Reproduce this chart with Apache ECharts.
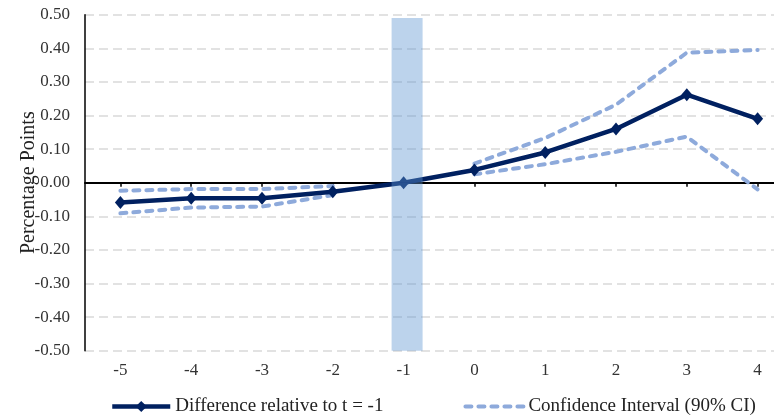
<!DOCTYPE html>
<html>
<head>
<meta charset="utf-8">
<script src="https://cdn.jsdelivr.net/npm/echarts@6/dist/echarts.min.js"></script>
<style>
  html, body { margin: 0; padding: 0; background: #fff; }
  #chart { width: 774px; height: 416px; }
</style>
</head>
<body>
<div id="chart"></div>
<script>
// Event-time periods relative to the reference period t = -1
const periods = ['-5', '-4', '-3', '-2', '-1', '0', '1', '2', '3', '4'];

// Estimated difference relative to t = -1 (percentage points)
const difference = [-0.059, -0.046, -0.046, -0.027, 0.000, 0.038, 0.090, 0.160, 0.262, 0.190];

// 90% confidence interval bounds (no interval at the reference period)
const ciUpper = [-0.024, -0.019, -0.019, -0.010, null, 0.057, 0.133, 0.232, 0.387, 0.395];
const ciLower = [-0.091, -0.074, -0.071, -0.037, null, 0.025, 0.055, 0.092, 0.137, -0.020];

// Shaded band marking the reference period
const bandTop    = [null, null, null, null, 0.49, null, null, null, null, null];
const bandBottom = [null, null, null, null, -0.50, null, null, null, null, null];

// Y axis range and step
const yMin = -0.5, yMax = 0.5, yStep = 0.1;

const FONT = '"Liberation Serif", "DejaVu Serif", serif';
const NAVY = '#002060';
const CI_BLUE = '#8eaadb';

const ciLine = { color: CI_BLUE, width: 4, type: [6, 7], cap: 'round' };

const chart = echarts.init(document.getElementById('chart'));

chart.setOption({
  animation: false,
  backgroundColor: '#ffffff',
  textStyle: { fontFamily: FONT },
  grid: [
    { left: 85, width: 708, top: 14.7, height: 336, containLabel: false, outerBoundsMode: 'none' },
    { left: 88.5, width: 708, top: 14.7, height: 336, containLabel: false, outerBoundsMode: 'none' }
  ],
  legend: {
    data: [
      { name: 'Difference relative to t = -1', lineStyle: { width: 4.5 } },
      { name: 'Confidence Interval (90% CI)', itemStyle: { opacity: 0 }, lineStyle: { width: 4 } }
    ],
    left: 105,
    top: 392,
    itemWidth: 58,
    itemHeight: 14,
    itemGap: 80,
    textStyle: { fontFamily: FONT, fontSize: 19, color: '#222' }
  },
  xAxis: [
    {
      type: 'category',
      gridIndex: 0,
      data: periods,
      position: 'bottom',
      boundaryGap: true,
      axisLine: { show: false, onZero: false },
      axisTick: { show: false },
      axisLabel: { fontFamily: FONT, fontSize: 17, color: '#333', margin: 11 },
      splitLine: { show: false }
    },
    {
      type: 'category',
      gridIndex: 0,
      data: periods,
      position: 'top',
      boundaryGap: true,
      axisLine: { show: true, onZero: true, lineStyle: { color: '#000', width: 2 } },
      axisTick: { show: true, inside: true, alignWithLabel: true, length: 4, lineStyle: { color: '#000', width: 1.5 } },
      axisLabel: { show: false },
      splitLine: { show: false }
    },
    {
      type: 'category',
      gridIndex: 1,
      data: periods,
      show: false
    }
  ],
  yAxis: [
    {
      type: 'value',
      gridIndex: 0,
      min: yMin,
      max: yMax,
      interval: yStep,
      name: 'Percentage Points',
      nameLocation: 'middle',
      nameGap: 46,
      nameMoveOverlap: false,
      nameTextStyle: { fontFamily: FONT, fontSize: 20, color: '#222' },
      axisLine: { show: true, onZero: false, lineStyle: { color: '#000', width: 1.5 } },
      axisTick: { show: false },
      axisLabel: {
        fontFamily: FONT, fontSize: 17, color: '#333', margin: 15,
        formatter: v => v.toFixed(2)
      },
      splitLine: { show: true, lineStyle: { color: '#d9d9d9', width: 1.5, type: [9, 5] } }
    },
    {
      type: 'value',
      gridIndex: 1,
      min: yMin,
      max: yMax,
      show: false,
      splitLine: { show: false }
    }
  ],
  series: [
    {
      name: 'Confidence Interval (90% CI)',
      type: 'line',
      xAxisIndex: 0,
      yAxisIndex: 0,
      data: ciUpper,
      showSymbol: false,
      symbol: 'none',
      connectNulls: false,
      lineStyle: ciLine,
      itemStyle: { color: CI_BLUE },
      z: 2
    },
    {
      name: 'Confidence Interval (90% CI)',
      type: 'line',
      xAxisIndex: 0,
      yAxisIndex: 0,
      data: ciLower,
      showSymbol: false,
      symbol: 'none',
      connectNulls: false,
      lineStyle: ciLine,
      itemStyle: { color: CI_BLUE },
      z: 2
    },
    {
      name: 'Difference relative to t = -1',
      type: 'line',
      xAxisIndex: 0,
      yAxisIndex: 0,
      data: difference,
      symbol: 'diamond',
      symbolSize: [11, 13],
      lineStyle: { color: NAVY, width: 4.5 },
      itemStyle: { color: NAVY },
      z: 3
    },
    {
      name: 'band-top',
      type: 'bar',
      xAxisIndex: 2,
      yAxisIndex: 1,
      stack: 'band',
      data: bandTop,
      barWidth: 31,
      itemStyle: { color: 'rgba(95,150,210,0.42)' },
      silent: true,
      z: 5
    },
    {
      name: 'band-bottom',
      type: 'bar',
      xAxisIndex: 2,
      yAxisIndex: 1,
      stack: 'band',
      data: bandBottom,
      barWidth: 31,
      itemStyle: { color: 'rgba(95,150,210,0.42)' },
      silent: true,
      z: 5
    }
  ]
});
</script>
</body>
</html>
